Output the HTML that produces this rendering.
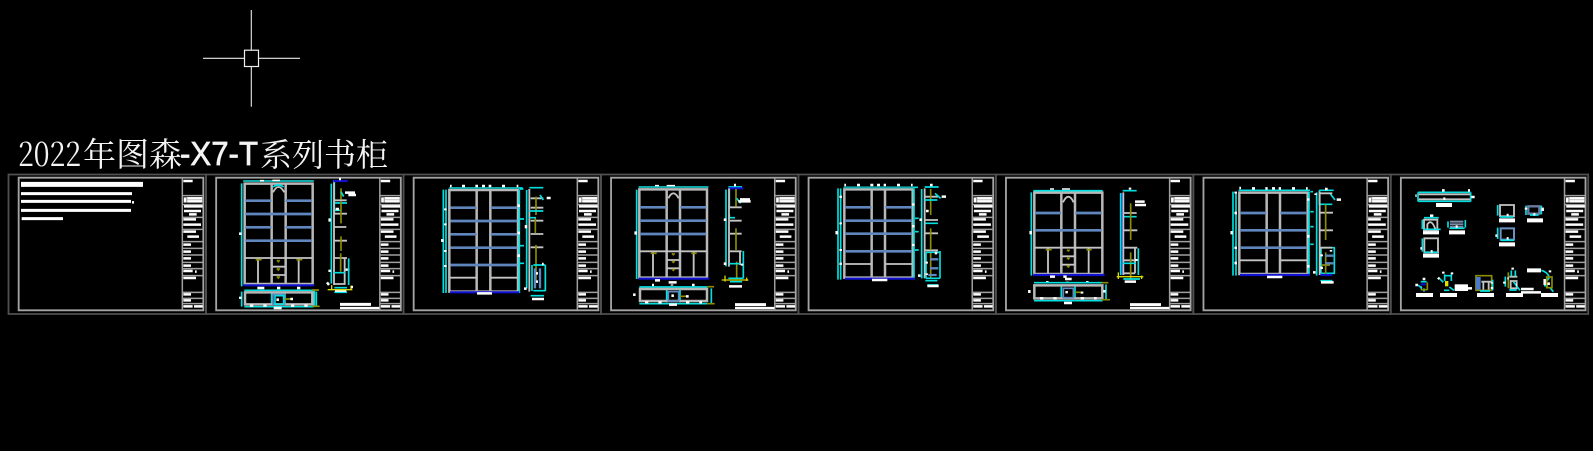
<!DOCTYPE html>
<html><head><meta charset="utf-8"><style>
html,body{margin:0;padding:0;background:#000;width:1593px;height:451px;overflow:hidden}
svg{display:block}
.g{fill:none;stroke:#b8b8b8;stroke-width:7.5}
.l{fill:none;stroke:#c4c4c4;stroke-width:5.5}
.c{fill:none;stroke:#00e0e0;stroke-width:5}
.b{fill:none;stroke:#5f86bd;stroke-width:8}
.d{fill:none;stroke:#1010d0;stroke-width:6.5}
.o{fill:none;stroke:#8c8c00;stroke-width:5}
.y{fill:none;stroke:#d8d800;stroke-width:4}
.w{fill:none;stroke:#fff;stroke-width:7.5}
.s{fill:none;stroke:#fff;stroke-width:4.5}
</style></head><body>
<svg width="1593" height="451" viewBox="0 0 1593 451" xmlns="http://www.w3.org/2000/svg" xmlns:xlink="http://www.w3.org/1999/xlink">
<defs>
<g id="tb">
<path d="M56 143H610V541H56Z" fill="none" stroke="#a4a4a4" stroke-width="5.5"/>
<path d="M547 143V541 M547 197H610 M547 224H610 M547 262H610 M547 298H610 M547 335H610 M547 355H610 M547 375H610 M547 397H610 M547 416H610 M547 437H610 M547 487H610 M547 505H610 M547 521H610" fill="none" stroke="#a0a0a0" stroke-width="4.5"/>
<path d="M550 153H578 M552 229H608 M552 243H603 M567 253H590 M550 268H588 M550 284H603 M550 305H588 M562 320H597 M550 344H573 M550 365H573 M550 385H573 M550 407H573 M550 423H578 M585 425H590 M550 444H588 M550 493H573 M550 511H573 M550 529H578 M582 529H608" fill="none" stroke="#fff" stroke-width="7.5"/>
<path d="M551 201H608V218H551Z" fill="#9a9a9a"/>
<path d="M562 205H606 M562 214H606 M555 204V217" fill="none" stroke="#fff" stroke-width="7"/>
</g>
<g id="frame"><path d="M8.5 174.5H206V314H8.5Z" fill="none" stroke="#505050" stroke-width="1.8"/></g>
</defs>
<rect width="1593" height="451" fill="#000"/>
<path d="M251.3 10V50 M251.3 66.7V106.7 M203 58.3H244.3 M258.7 58.3H300" stroke="#e8e8e8" stroke-width="1.1" fill="none"/>
<rect x="244.5" y="50.2" width="14" height="16.3" fill="none" stroke="#f0f0f0" stroke-width="1.2"/>
<g fill="#f4f4f4">
<text y="166" font-size="33" font-family="'Noto Serif CJK SC',serif"><tspan x="18" textLength="63" lengthAdjust="spacingAndGlyphs">2022</tspan><tspan x="83">年图森</tspan></text>
<text x="180" y="165" font-size="33" font-family="'Liberation Sans',sans-serif" textLength="78" lengthAdjust="spacingAndGlyphs" stroke="#f4f4f4" stroke-width=".7">-X7-T</text>
<text x="260" y="166" font-size="32" font-family="'Noto Serif CJK SC',serif">系列书柜</text>
</g>
<use xlink:href="#frame"/><use xlink:href="#frame" x="197.5"/><use xlink:href="#frame" x="395"/><use xlink:href="#frame" x="592.4"/><use xlink:href="#frame" x="789.9"/><use xlink:href="#frame" x="987.3"/><use xlink:href="#frame" x="1184.8"/><use xlink:href="#frame" x="1382.2"/>
<g transform="translate(0,130) scale(.33333)"><use xlink:href="#tb"/></g>
<g transform="translate(197.5,130) scale(.33333)"><use xlink:href="#tb"/></g>
<g transform="translate(395,130) scale(.33333)"><use xlink:href="#tb"/></g>
<g transform="translate(592.4,130) scale(.33333)"><use xlink:href="#tb"/></g>
<g transform="translate(789.9,130) scale(.33333)"><use xlink:href="#tb"/></g>
<g transform="translate(987.3,130) scale(.33333)"><use xlink:href="#tb"/></g>
<g transform="translate(1184.8,130) scale(.33333)"><use xlink:href="#tb"/></g>
<g transform="translate(1382.2,130) scale(.33333)"><use xlink:href="#tb"/></g>

<!-- sheet 1 -->
<g transform="translate(0,130) scale(.33333)">
<path d="M63 163H429" stroke="#fff" stroke-width="15" fill="none"/>
<path d="M63 191H396 M63 214H393 M63 241H393 M65 266H189" stroke="#fff" stroke-width="9" fill="none"/>
<path class="w" d="M396 217H402"/>
</g>

<!-- sheet 2 -->
<g transform="translate(215,175) scale(1)">
<g transform="scale(.33333)">
<path class="g" d="M89 26H293V327H89Z M170 26V327 M212 26V327"/>
<path class="b" d="M91 77H169 M212 77H291 M91 117H291 M91 157H169 M212 157H291 M91 197H291"/>
<path class="l" d="M89 249H293 M129 250V327 M251 250V327 M171 275H211 M171 300H211"/>
<path class="l" d="M174 52Q190 20 208 52"/>
<path class="c" d="M85 18H296 M80 25V334 M174 36Q190 24 206 36"/>
<path stroke="#10a8a8" stroke-width="6" fill="none" d="M85 18H296"/>
<path class="d" d="M86 331H298"/>
<path class="o" d="M122 254H140 M244 254H262 M186 255L190 260L194 255 M186 280L190 285L194 280 M186 304L190 309L194 304"/>
<path class="s" d="M135 17H147 M172 16H195"/>
<path class="w" d="M76 172V180 M127 339H148 M186 339H196 M246 339H256"/>
<path class="c" d="M88 346H296 M88 395H296 M80 350V395 M298 346V395 M170 350V390 M210 350V390"/>
<path class="g" d="M90 352H292V388H90Z"/>
<path stroke="#5f86bd" stroke-width="5" fill="none" d="M174 358H208V388H174Z"/>
<path class="c" d="M180 362H206V388H180Z M304 350V392"/>
<path class="o" d="M210 372H230 M292 345H312 M292 394H314"/>
<path class="w" d="M76 365V372 M226 372H234 M188 370V378 M105 392H115 M145 392H155 M228 392H238 M268 392H278 M176 399H200"/>
<path class="c" d="M354 18H396 M349 26V326 M358 18V120 M356 84H396 M356 106H380"/>
<path class="l" d="M357 22V330 M359 76H395 M359 116H396 M359 156H394 M359 197H396 M357 249H396 M389 250V327 M357 327H392"/>
<path class="o" d="M378 40V74 M378 80V145 M378 184V228 M377 235V290"/>
<path class="c" d="M378 50L386 65 M401 250V330 M356 293H390 M392 284H404 M358 338H396 M358 352H396"/>
<path class="d" d="M355 18H398"/>
<path class="w" d="M390 53H420 M400 60H423 M344 130V140 M344 284V291 M372 12H378 M392 284H398 M360 347H394"/>
<path class="y" d="M338 344H412 M350 330V345 M408 332V342"/>
<path class="w" d="M336 322L342 330 M408 336H414 M362 102H372"/>
<path stroke="#fff" stroke-width="9" fill="none" d="M375 388H468"/>
<path stroke="#fff" stroke-width="7" fill="none" d="M375 399H493"/>
</g></g>

<!-- sheet 3 -->
<g transform="translate(400,165) scale(.33333)">
<path class="g" d="M148 75H354V380H148Z M230 75V380 M271 75V380"/>
<path class="b" d="M151 128H230 M272 128H352 M151 168H352 M151 208H230 M272 208H352 M151 248H352 M151 300H352"/>
<path class="l" d="M150 338H230 M272 338H352"/>
<path class="c" d="M130 74V384 M138 74V384 M148 69H368 M358 74V384"/>
<path stroke="#10a8a8" stroke-width="6" fill="none" d="M148 69H356"/>
<path class="d" d="M150 382H358"/>
<path class="w" d="M150 63H155 M186 63H195 M226 63H234 M246 63H255 M266 63H274 M306 63H315 M350 63H355 M127 222V231 M136 130V136 M136 175V181 M136 255V261 M136 300V306 M356 118V126 M356 200V208 M356 268V276 M231 385H276"/>
<path class="c" d="M360 72H370 M360 162H372 M360 242H372 M360 295H372 M380 75V370 M388 68H430"/>
<path class="l" d="M388 72V380 M392 100H430 M392 128H430 M392 167H430 M392 207H430 M392 247H430"/>
<path class="o" d="M408 95V150 M406 160V205 M408 240V350"/>
<path class="c" d="M388 138H430 M388 158H408 M420 90L430 105 M400 300H436 M400 377H436 M396 300V378 M436 300V378 M392 392H432"/>
<path stroke="#5f86bd" stroke-width="7" fill="none" d="M405 310V370 M420 310V370"/>
<path class="w" d="M440 99H452 M378 180V190 M372 371H380 M408 325H414 M408 350H414 M396 402H432 M426 297H431"/>
</g>

<!-- sheet 4 -->
<g transform="translate(400,165) scale(.33333)">
<path class="g" d="M718 73H921V338H718Z M800 73V338 M840 73V338"/>
<path class="b" d="M720 127H799 M841 127H919 M720 167H919 M720 207H919"/>
<path class="l" d="M718 259H921 M759 260V335 M881 260V335 M801 285H840 M801 310H840 M805 100Q820 70 836 100"/>
<path class="c" d="M716 66H925 M710 74V342"/>
<path stroke="#10a8a8" stroke-width="6" fill="none" d="M716 66H925"/>
<path class="d" d="M716 341H928"/>
<path class="o" d="M752 265H770 M874 265H890 M816 265L820 269L824 265 M816 288L820 292L824 288 M816 312L820 316L824 312"/>
<path class="s" d="M765 62H777 M800 62H825"/>
<path class="w" d="M707 199V209 M765 346H780 M806 352H830 M816 358V362 M756 360H762 M876 360H884"/>
<path class="c" d="M718 366H922 M718 416H922 M800 370V412 M840 370V412 M934 370V416"/>
<path class="g" d="M720 372H921V408H720Z"/>
<path stroke="#5f86bd" stroke-width="5" fill="none" d="M805 380H836V408H805Z"/>
<path class="o" d="M840 394H862 M922 365H942 M922 416H944"/>
<path class="w" d="M703 385V393 M858 394H866 M735 412H745 M775 412H785 M858 412H868 M898 412H906 M807 419H831 M818 388V396"/>
<path class="c" d="M985 66H1026 M978 74V304 M988 66V130 M988 148V158H1005"/>
<path class="d" d="M985 70H1030"/>
<path class="l" d="M987 70V305 M990 127H1025 M990 167H1025 M990 206H1025 M988 259H1025 M1020 260V300"/>
<path class="o" d="M1008 72V124 M1008 190V255 M1010 290V340"/>
<path class="c" d="M1010 100L1022 115 M1030 258V340 M988 296H1020 M990 350H1026 M985 340H1030"/>
<path class="w" d="M1020 103H1050 M1015 109H1052 M975 160V168 M975 292V300 M1026 296V302 M1002 60H1008 M987 364H1026"/>
<path class="y" d="M965 345H1045 M975 332V350 M1040 338V348"/>
<path stroke="#fff" stroke-width="9" fill="none" d="M1005 419H1098"/>
<path stroke="#fff" stroke-width="7" fill="none" d="M1005 429H1123"/>
</g>

<!-- sheet 5 -->
<g transform="translate(800,165) scale(.33333)">
<path class="g" d="M133 73H338V338H133Z M215 73V338 M255 73V338"/>
<path class="b" d="M135 127H214 M256 127H336 M135 167H336 M135 206H336 M135 259H336"/>
<path class="l" d="M135 297H214 M256 297H336"/>
<path class="c" d="M114 70V344 M122 70V344 M131 67H354 M342 70V344"/>
<path stroke="#10a8a8" stroke-width="6" fill="none" d="M131 67H340"/>
<path class="d" d="M135 341H345"/>
<path class="w" d="M133 60H138 M171 60H180 M211 60H220 M231 60H240 M251 60H258 M291 60H300 M333 60H338 M110 198V208 M122 92V99 M122 172V178 M122 252V258 M122 293V300 M340 115V122 M340 180V187 M340 237V243 M216 345H262"/>
<path class="c" d="M345 160H356 M345 200H356 M345 255H356 M365 72V340 M374 66H416"/>
<path class="l" d="M374 70V340 M376 95H414 M376 165H414 M376 205H414 M376 256H414"/>
<path class="o" d="M392 72V150 M392 190V255 M392 262V340"/>
<path class="c" d="M374 105H412 M376 175H414 M405 85L422 100 M378 262H420 M378 340H420 M378 262V340 M420 258V340 M376 347H412 M382 360H415"/>
<path stroke="#5f86bd" stroke-width="7" fill="none" d="M390 283H415 M390 310H415 M385 330H410"/>
<path class="w" d="M425 95H438 M362 160V168 M354 332H362 M378 138H386 M408 260V268 M380 290V296 M380 325V330 M382 363H416 M390 60H398"/>
</g>

<!-- sheet 6 -->
<g transform="translate(800,165) scale(.33333)">
<path class="g" d="M703 83H907V327H703Z M784 83V327 M825 83V327"/>
<path class="b" d="M705 144H783 M826 144H905 M705 196H905"/>
<path class="l" d="M703 248H907 M744 250V325 M866 250V325 M785 274H824 M785 299H824 M789 112Q805 78 821 112"/>
<path class="c" d="M700 77H908 M694 82V332"/>
<path class="d" d="M700 330H914"/>
<path class="o" d="M737 254H755 M859 254H875 M801 254L805 258L809 254 M801 278L805 282L809 278 M801 302L805 306L809 302"/>
<path class="s" d="M750 72H762 M786 72H810"/>
<path class="w" d="M692 198V208 M750 335H765 M790 335H800 M795 342H815 M802 350V355 M742 348V353 M862 348V354"/>
<path class="c" d="M702 353H908 M702 407H908 M784 358V400 M825 358V400 M918 358V405"/>
<path class="g" d="M703 361H907V400H703Z"/>
<path stroke="#5f86bd" stroke-width="5" fill="none" d="M790 370H820V398H790Z"/>
<path class="o" d="M825 382H850 M905 353H925 M905 404H930"/>
<path class="w" d="M688 375V384 M846 380V386 M720 400H730 M760 400H770 M842 400H852 M882 400H890 M792 414H816 M800 378V385 M913 375V383"/>
<path class="c" d="M968 77H1010 M962 84V330 M968 145V155H1010 M1015 250V330"/>
<path class="d" d="M968 85V330"/>
<path class="l" d="M970 82V330 M972 144H1010 M972 196H1012 M970 248H1012 M1005 250V325 M972 286H1005 M970 325H1005"/>
<path class="o" d="M992 115V225 M992 262V345"/>
<path class="c" d="M968 295H1008 M970 342H1020"/>
<path class="w" d="M1005 110H1034 M1005 120H1038 M990 68V74 M1009 282V288 M974 350H1008"/>
<path class="y" d="M950 335H1030 M955 322V342 M1025 332V342"/>
<path stroke="#fff" stroke-width="9" fill="none" d="M990 419H1083"/>
<path stroke="#fff" stroke-width="7" fill="none" d="M990 429H1108"/>
</g>

<!-- sheet 7 -->
<g transform="translate(1195,165) scale(.33333)">
<path class="g" d="M133 83H338V327H133Z M215 83V327 M255 83V327"/>
<path class="b" d="M135 144H214 M256 144H336 M135 196H336 M135 248H336"/>
<path class="l" d="M135 286H214 M256 286H336"/>
<path class="c" d="M114 80V332 M123 80V332 M131 76H345 M342 80V332"/>
<path class="d" d="M135 330H345"/>
<path class="w" d="M133 69H138 M171 70H180 M211 70H218 M231 70H240 M251 70H258 M291 70H300 M333 70H338 M110 198V208 M122 80V86 M122 140V148 M122 245V252 M122 290V298 M340 100V107 M340 210V218 M340 300V308 M216 336H262"/>
<path class="c" d="M346 80H354 M346 140H356 M346 185H356 M346 238H356 M365 82V332 M373 76H416 M373 76V118H412 M378 248H420 M378 325H420 M418 248V325 M378 248V325 M376 347H412 M405 85L420 105"/>
<path class="l" d="M374 80V330 M376 85H412 M376 143H414 M376 196H414 M376 248H412"/>
<path class="o" d="M392 118V225 M392 262V330 M380 300H405"/>
<path stroke="#5f86bd" stroke-width="7" fill="none" d="M390 272H415 M390 295H415"/>
<path class="d" d="M376 330H412"/>
<path class="w" d="M425 104H438 M362 85V90 M354 322H362 M380 268V274 M380 305V312 M408 255V260 M390 72H398 M378 352H416"/>
</g>

<!-- sheet 8 -->
<g transform="translate(1390,175) scale(.33333)">
<path class="c" d="M84 52H242 M84 79H242 M84 52V79 M242 52V79"/>
<path class="l" d="M86 58H240 M86 73H240"/>
<path class="w" d="M156 46H164 M234 46H240 M76 62H80 M244 66H254 M160 71H166"/>
<path stroke="#fff" stroke-width="12" fill="none" d="M138 90H186 M99 172H147 M177 172H225 M99 242H147 M327 136H375 M411 136H459 M327 208H375 M78 360H129 M150 360H201 M261 360H312 M348 360H399 M453 360H504 M411 286H453"/>
<path class="l" d="M102 134H142V166H102Z"/>
<path class="c" d="M102 128H146 M97 134V162 M100 163H152"/>
<path class="l" d="M112 162V148Q124 130 136 162"/>
<path class="w" d="M120 122H130"/>
<path stroke="#7a8ca8" stroke-width="6" fill="none" d="M180 140H220 M180 148H220 M180 156H220"/>
<path class="c" d="M174 139V158 M226 135V158 M178 160H224"/>
<path class="w" d="M197 155H203"/>
<path class="l" d="M103 190H144V232H103Z"/>
<path class="c" d="M97 190V230 M103 232H144"/>
<path class="w" d="M91 220H96 M122 229H128"/>
<path class="l" d="M330 90H372V124H330Z"/>
<path class="c" d="M323 90V122 M330 126H370"/>
<path class="w" d="M350 120H356"/>
<path stroke="#6a7ca0" stroke-width="7" fill="none" d="M415 94H448V116H415Z"/>
<path class="c" d="M408 92V120 M454 92V118 M420 120H446"/>
<path class="w" d="M430 118H436 M408 98V104 M458 98V108"/>
<path stroke="#6a90c0" stroke-width="6" fill="none" d="M332 160H372V194H332Z"/>
<path class="c" d="M323 158V192 M332 196H372"/>
<path class="w" d="M316 182H322 M350 190H356"/>
<path class="w" d="M98 312H106 M76 330H84 M92 338H96"/>
<path class="c" d="M84 330L96 340 M92 320H110 M102 340V350"/>
<path class="d" d="M92 328H108"/>
<path class="o" d="M112 322V345 M92 344H112"/>
<path class="c" d="M148 310L160 322 M164 298V318 M184 298V318 M164 302H186 M178 336L192 346 M162 346H178"/>
<path class="w" d="M160 290V296 M186 292V298 M144 308L148 312"/>
<path stroke="#e0e000" stroke-width="10" fill="none" d="M170 318V334"/>
<path stroke="#fff" stroke-width="20" fill="none" d="M194 338H234"/>
<path class="w" d="M234 340H246"/>
<path class="o" d="M258 302H305V346H258Z"/>
<path stroke="#4a7ac8" stroke-width="14" fill="none" d="M265 306V344"/>
<path class="l" d="M274 320H306 M280 322V344 M296 322V344"/>
<path class="c" d="M308 314V346 M270 348H300"/>
<path class="w" d="M306 322V326 M306 336V342"/>
<path class="l" d="M358 305H382 M362 318H380V340H362Z"/>
<path class="c" d="M364 286V304 M376 286V304 M346 305V335 M370 320L390 346 M358 345H380"/>
<path class="o" d="M355 292V340"/>
<path class="w" d="M368 278V284 M343 320V326 M352 310H356 M378 330H382 M393 342H431"/>
<path class="w" d="M393 352H453"/>
<path class="c" d="M454 286Q470 290 478 306 M478 308L468 320 M480 338L490 350 M462 332H474"/>
<path class="o" d="M470 306H486V338H470Z"/>
<path class="w" d="M480 286V292 M464 312V330 M476 322V330"/>
</g>
</svg>
</body></html>
